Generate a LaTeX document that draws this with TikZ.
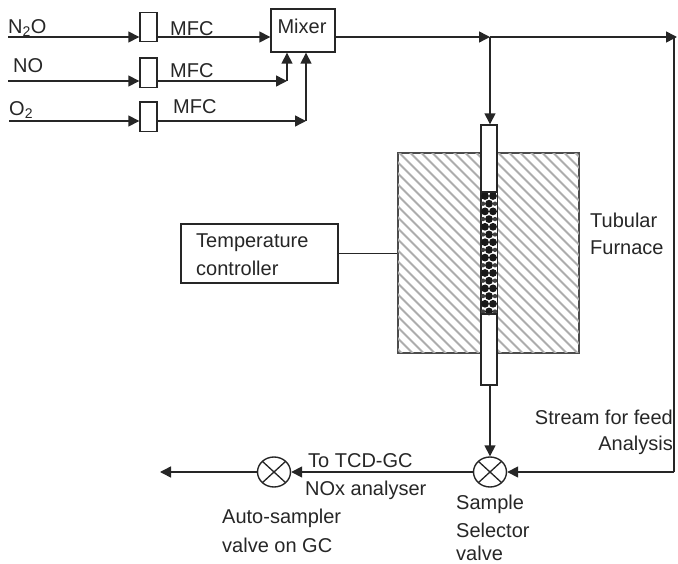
\documentclass[tikz,border=0pt]{standalone}
\usepackage{fontspec}
\setmainfont{Liberation Sans}
\usetikzlibrary{arrows.meta, positioning, calc, shapes.geometric}

\begin{document}
\begin{tikzpicture}[x=1pt, y=-1pt, node distance=15pt,
    every node/.style={font=\fontsize{20}{25}\selectfont, text=black!85},
    unit/.style={rectangle, draw=black!85, line width=1.4pt, fill=white, inner sep=0pt},
    mfcbox/.style={unit, minimum width=17pt, minimum height=29.5pt},
    valve/.style={ellipse, draw=black!85, line width=1.4pt, fill=white, inner sep=0pt, minimum width=33pt, minimum height=30pt, path picture={
        \draw[black!85, line width=1.3pt] (path picture bounding box.center) ++(-12pt,-11pt) -- ++(24pt,22pt);
        \draw[black!85, line width=1.3pt] (path picture bounding box.center) ++(-12pt,11pt) -- ++(24pt,-22pt);}},
    label/.style={anchor=west, inner sep=0pt, align=left},
    line/.style={line width=1.5pt, draw=black!85},
    arrow/.style={line, -{Triangle[length=11pt, width=11pt]}}]
    \useasboundingbox (0,0) rectangle (678,564);

    % furnace
    \node (furnace) [unit, draw=black!70, minimum width=181pt, minimum height=200pt] at (488.5,253) {};
    \begin{scope}
        \clip (furnace.north west) rectangle (furnace.south east);
        \foreach \i in {-220,-209,...,220}
            \draw[black!32, line width=1.8pt] (488.5+\i-120,133) -- ++(240,240);
    \end{scope}
    \draw[line, draw=black!70] (furnace.north west) rectangle (furnace.south east);

    % tube with packed bed
    \node (tube) [unit, minimum width=16pt, minimum height=260pt] at (489,255) {};
    \node (bed) [rectangle, fill=white, minimum width=15pt, minimum height=122pt, inner sep=0pt] at (489,253) {};
    \foreach \r in {0,...,15} {
        \pgfmathsetmacro{\yy}{196+\r*7.7}
        \ifodd\r
            \fill[black!90] (489,\yy) circle (3.9pt);
            \fill[black!75] (483,\yy) circle (2.2pt);
            \fill[black!75] (495,\yy) circle (2.2pt);
        \else
            \fill[black!90] (485,\yy) circle (3.9pt);
            \fill[black!90] (493,\yy) circle (3.9pt);
        \fi
    }
    \draw[line] (bed.north west) -- (bed.north east);
    \draw[line] (bed.south west) -- (bed.south east);
    \draw[line] (tube.north west) rectangle (tube.south east);

    \node (mixer) [unit, minimum width=64pt, minimum height=43pt] at (303,30.5) {};
    \node at (302,26) {Mixer};
    \node (mfc1) [mfcbox] at (148.5,27) {};
    \node (mfc2) [mfcbox, below=15pt of mfc1] {};
    \node (mfc3) [mfcbox, below=13pt of mfc2] {};
    \node (tcon) [unit, draw=black!85, minimum width=157pt, minimum height=59pt] at (259.5,253.5) {};
    \node [label] at (196,243) {Temperature};
    \node [label] at (196,268) {controller};
    \node (selector) [valve] at (490,472) {};
    \node (sampler) [valve] at (274,472) {};

    % texts
    \node [label] at (8,28) {N\textsubscript{2}O};
    \node [label] at (13,66) {NO};
    \node [label] at (9,110) {O\textsubscript{2}};
    \node [label] at (170,29) {MFC};
    \node [label] at (170,71) {MFC};
    \node [label] at (173,107) {MFC};
    \node [label] at (590,220) {Tubular};
    \node [label] at (590,248) {Furnace};
    \node [anchor=east, inner sep=0pt] at (673,417) {Stream for feed};
    \node [anchor=east, inner sep=0pt] at (673,445) {Analysis};
    \node [label] at (308,461) {To TCD-GC};
    \node [label] at (305,490) {NOx analyser};
    \node [label] at (222,518) {Auto-sampler};
    \node [label] at (222,545) {valve on GC};
    \node [label] at (456,504) {Sample};
    \node [label] at (456,530) {Selector};
    \node [label] at (456,553) {valve};

    % free ends and corners
    \coordinate (n2oin) at (8,37);
    \coordinate (noin) at (8,81);
    \coordinate (o2in) at (9,121);
    \coordinate (nocorner) at (287,81);
    \coordinate (o2corner) at (306,121);
    \coordinate (mixout) at (335,37);
    \coordinate (tee) at (490,37);
    \coordinate (feedtop) at (677,37);
    \coordinate (feedcorner) at (674,472);
    \coordinate (vent) at (160,472);

    \draw [arrow] (n2oin) -- (n2oin -| mfc1.west);
    \draw [arrow] (mfc1.east |- n2oin) -- (n2oin -| mixer.west);
    \draw [arrow] (noin) -- (noin -| mfc2.west);
    \draw [arrow] (mfc2.east |- noin) -- (nocorner);
    \draw [arrow] (nocorner) -- (nocorner |- mixer.south);
    \draw [arrow] (o2in) -- (o2in -| mfc3.west);
    \draw [arrow] (mfc3.east |- o2in) -- (o2corner);
    \draw [arrow] (o2corner) -- (o2corner |- mixer.south);
    \draw [arrow] (mixout) -- (tee);
    \draw [arrow] (tee) -- (feedtop);
    \draw [arrow] (tee) -- (tube.north -| tee);
    \draw [line] (feedtop -| feedcorner) -- (feedcorner);
    \draw [arrow] (feedcorner) -- (selector.east);
    \draw [arrow] (tube.south -| selector) -- (selector.north);
    \draw [arrow] (selector.west) -- (sampler.east);
    \draw [arrow] (sampler.west) -- (vent);
    \draw [line] (tcon.east) -- (tcon.east -| furnace.west);
\end{tikzpicture}
\end{document}
